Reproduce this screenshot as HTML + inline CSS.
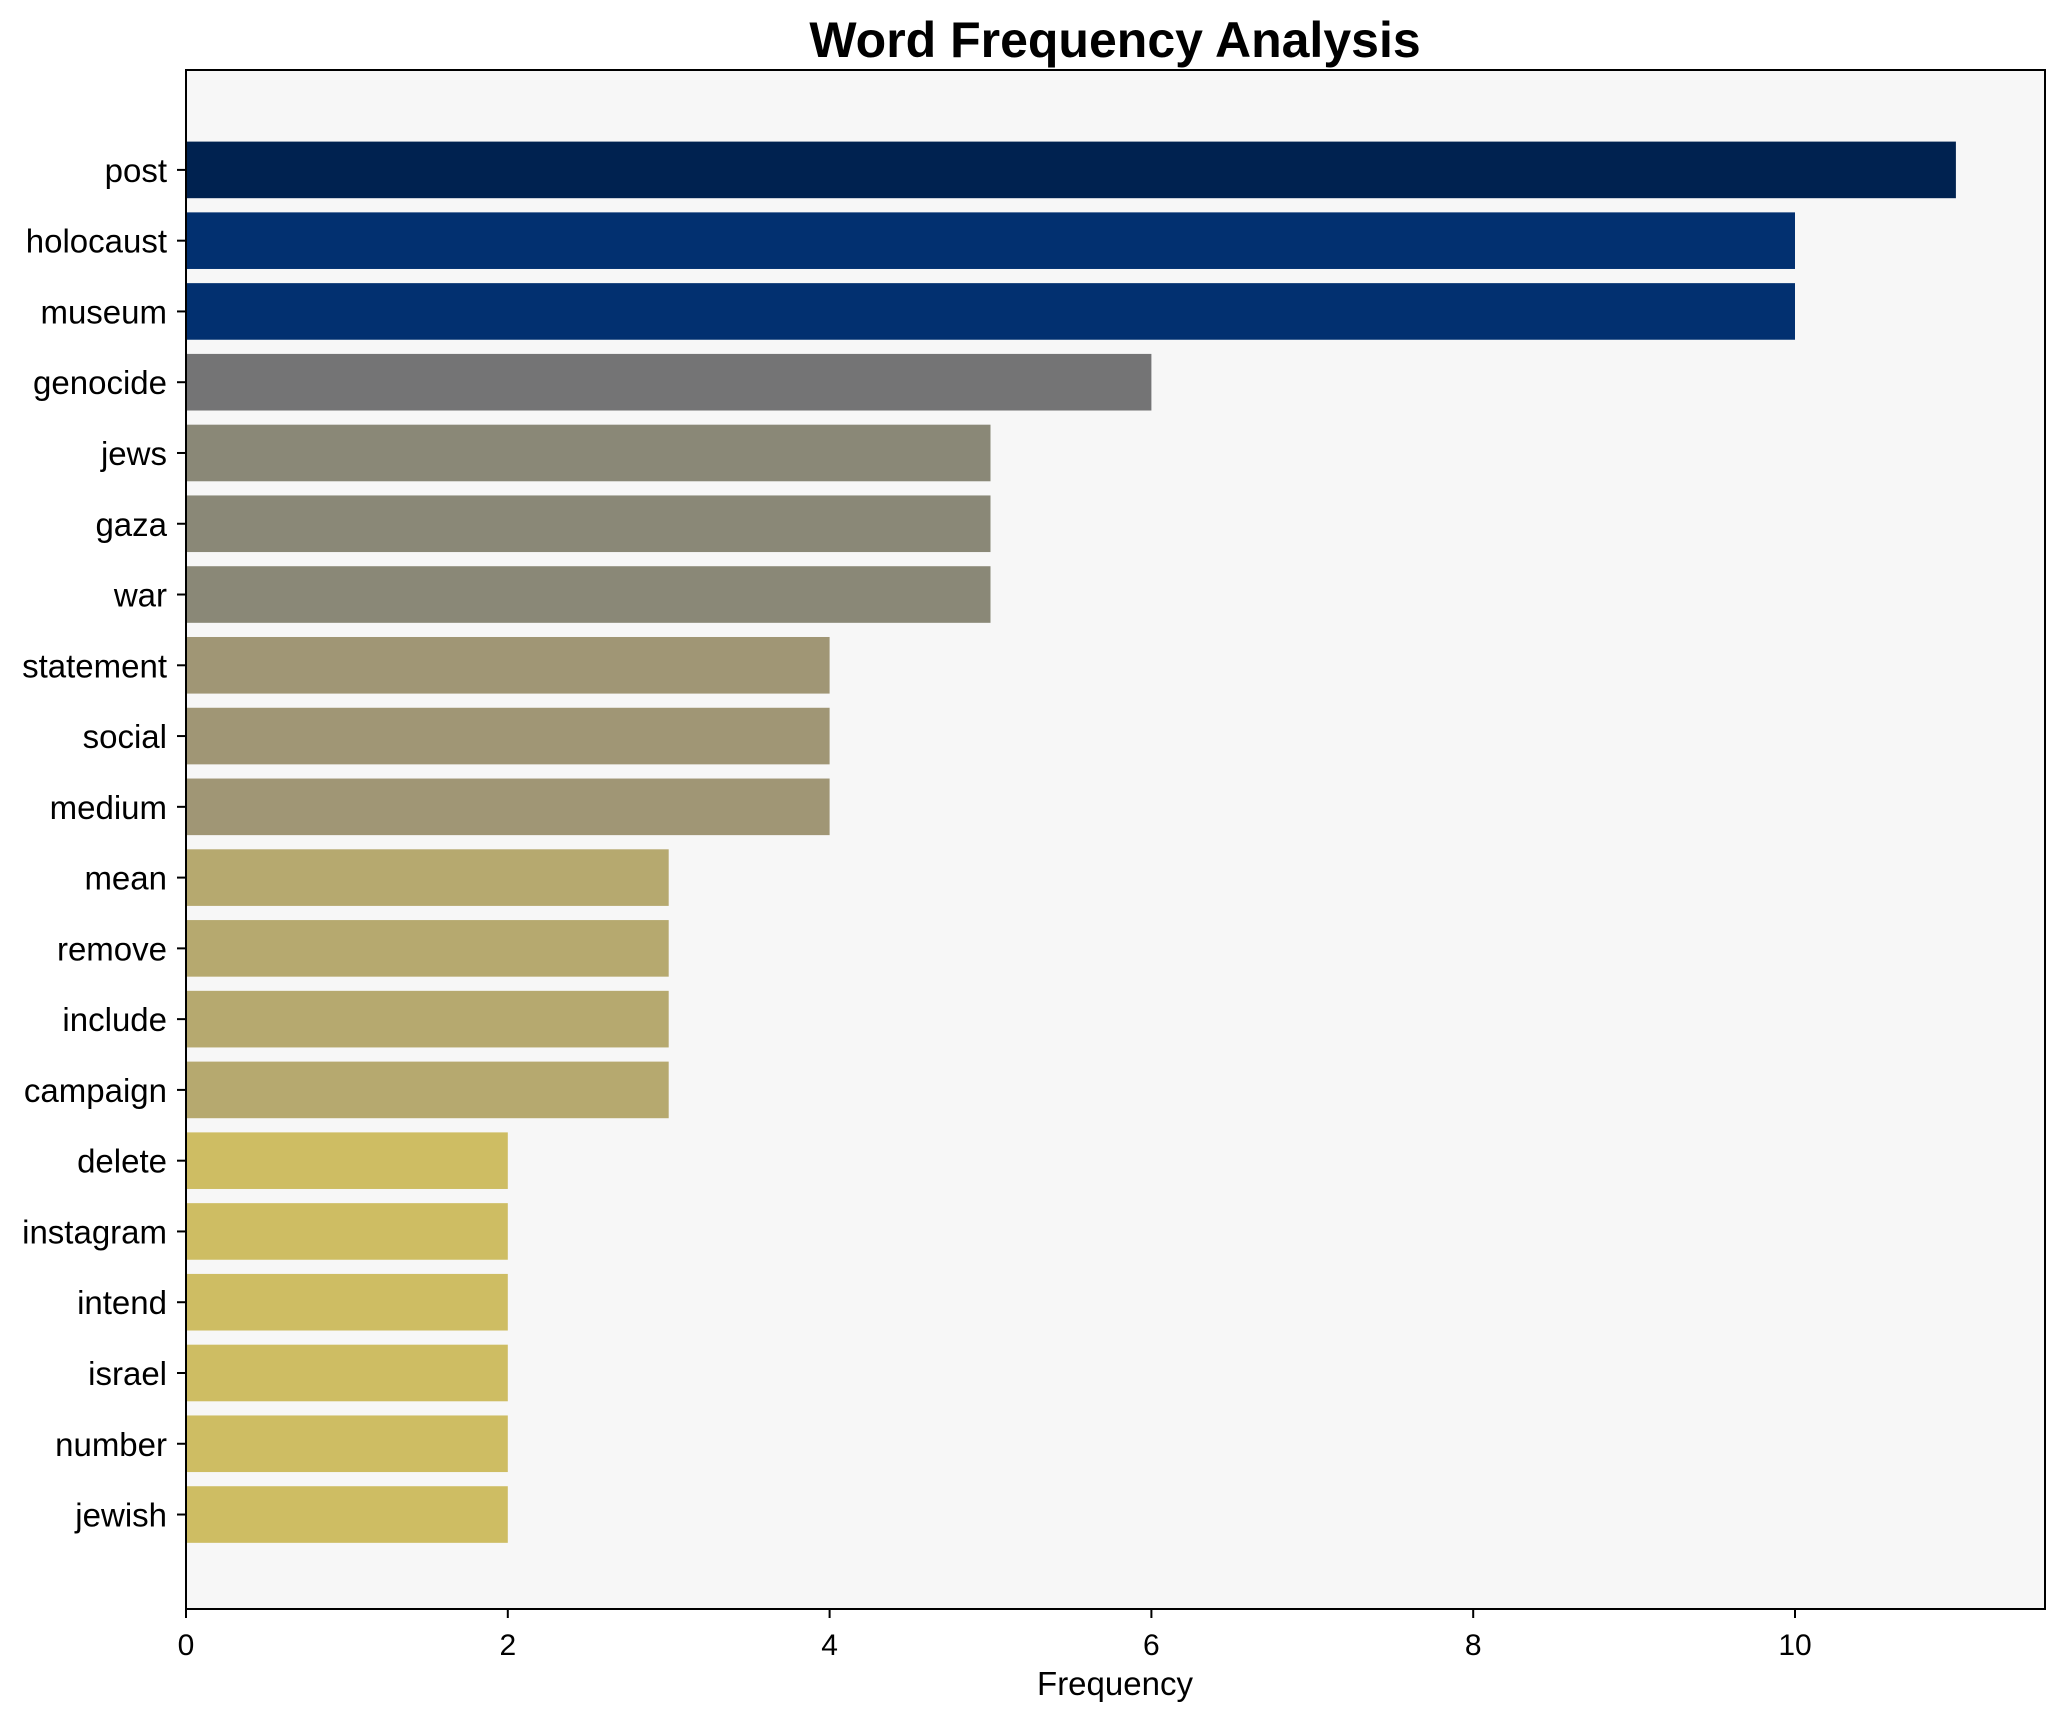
<!DOCTYPE html>
<html><head><meta charset="utf-8"><style>
html,body{margin:0;padding:0;background:#fff}
svg text{font-family:"Liberation Sans",Arial,sans-serif}
</style></head><body>
<svg id="chart" width="2065" height="1722" xmlns="http://www.w3.org/2000/svg">
<rect width="2065" height="1722" fill="#fff"/>
<text x="1115" y="57" font-size="50" font-weight="bold" text-anchor="middle">Word Frequency Analysis</text>
<rect x="186" y="70" width="1859" height="1539" fill="#f7f7f7"/>
<g id="bars"></g>
<g id="yticks"></g>
<g id="xticks"></g>
<rect x="186" y="70" width="1859" height="1539" fill="none" stroke="#000" stroke-width="2"/>
<text x="1115" y="1695" font-size="33" text-anchor="middle">Frequency</text>
</svg>
<script>
const words = ["post","holocaust","museum","genocide","jews","gaza","war","statement","social","medium","mean","remove","include","campaign","delete","instagram","intend","israel","number","jewish"];
const counts = [11,10,10,6,5,5,5,4,4,4,3,3,3,3,2,2,2,2,2,2];
const xTicks = [0,2,4,6,8,10];
const colorByValue = {11:"#002250",10:"#023070",6:"#747475",5:"#8a8877",4:"#a09675",3:"#b6a96f",2:"#cebd63"};
const NS="http://www.w3.org/2000/svg";
const x0=186, unit=160.9, y0=169.9, step=70.77, bh=56.6;
const xs=v=>x0+v*unit;
const ys=i=>y0+i*step;
const bars=document.getElementById('bars'), yt=document.getElementById('yticks'), xt=document.getElementById('xticks');
words.forEach((w,i)=>{
  const r=document.createElementNS(NS,'rect');
  
  
  r.setAttribute('x',xs(0));r.setAttribute('y',ys(i)-bh/2);
  r.setAttribute('width',xs(counts[i])-xs(0));r.setAttribute('height',bh);
  r.setAttribute('fill',colorByValue[counts[i]]||"#cebd63");
  bars.appendChild(r);
  const l=document.createElementNS(NS,'line');
  
  
  l.setAttribute('x1',x0-9);l.setAttribute('x2',x0);l.setAttribute('y1',ys(i));l.setAttribute('y2',ys(i));
  l.setAttribute('stroke','#000');l.setAttribute('stroke-width','2');
  yt.appendChild(l);
  const t=document.createElementNS(NS,'text');
  
  
  t.setAttribute('x',x0-19);t.setAttribute('y',ys(i)+12);
  t.setAttribute('font-size','33');t.setAttribute('text-anchor','end');
  t.textContent=w;yt.appendChild(t);
});
xTicks.forEach(v=>{
  const l=document.createElementNS(NS,'line');
  
  
  l.setAttribute('x1',xs(v));l.setAttribute('x2',xs(v));l.setAttribute('y1',1609);l.setAttribute('y2',1618);
  l.setAttribute('stroke','#000');l.setAttribute('stroke-width','2');
  xt.appendChild(l);
  const t=document.createElementNS(NS,'text');
  
  
  t.setAttribute('x',xs(v));t.setAttribute('y',1655);
  t.setAttribute('font-size','30');t.setAttribute('text-anchor','middle');
  t.textContent=v;xt.appendChild(t);
});
</script>
</body></html>
